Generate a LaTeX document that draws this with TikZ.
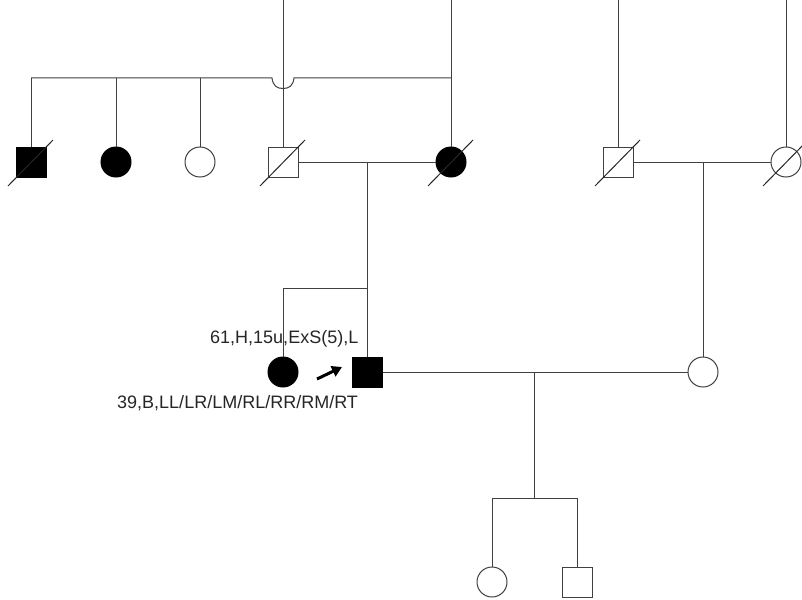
\documentclass[tikz,border=0pt]{standalone}
\usepackage{fontspec}
\setmainfont{Liberation Sans}
\usetikzlibrary{calc,arrows.meta}
\begin{document}
\begin{tikzpicture}[x=1pt,y=-1pt,
  ln/.style={draw=black!75,line width=1pt},
  male/.style={ln,rectangle,minimum size=30pt,inner sep=0pt,fill=white},
  female/.style={ln,circle,minimum size=30pt,inner sep=0pt,fill=white},
  aff/.style={fill=black,draw=black},
  lbl/.style={anchor=base west,inner sep=0pt,text=black!85,font=\fontsize{18}{20}\selectfont},
  dslash/.style={draw=black!85,line width=1pt}]
\useasboundingbox[fill=white] (0,0) rectangle (802,599);
% coordinates
\coordinate (t2) at (283,0);
\coordinate (t3) at (451,0);
\coordinate (t4) at (618,0);
\coordinate (t5) at (786,0);
\coordinate (s1) at (31,78);
\coordinate (s2) at (116,78);
\coordinate (s3) at (200,78);
\coordinate (h1) at (272,78);
\coordinate (h2) at (294,78);
\coordinate (s5) at (451,78);
\coordinate (d1) at (367,162);
\coordinate (g1) at (283,288);
\coordinate (g2) at (367,288);
\coordinate (d2) at (703,162);
\coordinate (d3) at (534,372);
\coordinate (k0) at (534,498);
\coordinate (k1) at (492,498);
\coordinate (k2) at (577,498);
\coordinate (arT) at (317,379);
\coordinate (arH) at (342,367);
% sibship line with hop
\draw[ln] (s1) -- (h1) .. controls (273,86) and (277,88.5) .. (283,88.5) .. controls (289,88.5) and (293,86) .. (h2) -- (s5);
\draw[ln] (d1) -- (g2);
\draw[ln] (g1) -- (g2);
\draw[ln] (d3) -- (k0);
\draw[ln] (k1) -- (k2);
% individuals
\node[male,aff] (m1) at (31,162) {};
\node[female,aff] (f1) at (116,162) {};
\node[female] (f2) at (200,162) {};
\node[male] (m2) at (283,162) {};
\node[female,aff] (f3) at (451,162) {};
\node[male] (m3) at (618,162) {};
\node[female] (f4) at (786,162) {};
\node[female,aff] (p) at (283,372) {};
\node[male,aff] (pr) at (367,372) {};
\node[female] (sp) at (703,372) {};
\node[female] (c1) at (492,582) {};
\node[male] (c2) at (577,582) {};
% marriages
\draw[ln] (m2.east) -- (f3.west);
\draw[ln] (m3.east) -- (f4.west);
\draw[ln] (pr.east) -- (sp.west);
% descent lines
\draw[ln] (t2) -- (m2.north);
\draw[ln] (t3) -- (f3.north);
\draw[ln] (t4) -- (m3.north);
\draw[ln] (t5) -- (f4.north);
\draw[ln] (s1) -- (m1.north);
\draw[ln] (s2) -- (f1.north);
\draw[ln] (s3) -- (f2.north);
\draw[ln] (g1) -- (p.north);
\draw[ln] (g2) -- (pr.north);
\draw[ln] (d2) -- (sp.north);
\draw[ln] (k1) -- (c1.north);
\draw[ln] (k2) -- (c2.north);
% deceased slashes
\foreach \n in {m1,m2,f3,m3,f4}
  \draw[dslash] ($(\n)+(-23,24)$) -- ($(\n)+(22,-22)$);
% proband arrow
\draw[line width=3pt,-{Triangle[length=10pt,width=11pt]}] (arT) -- (arH);
% labels
\node[lbl] (l1) at (210,343) {61,H,15u,ExS(5),L};
\node[lbl] (l2) at (117,408) {39,B,LL/LR/LM/RL/RR/RM/RT};
\end{tikzpicture}
\end{document}
